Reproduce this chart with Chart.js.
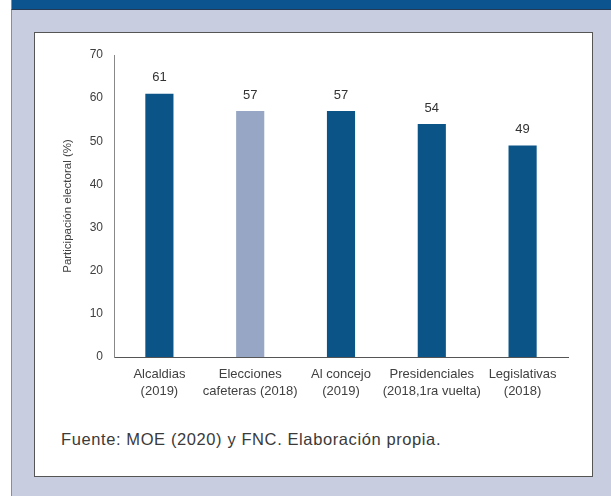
<!DOCTYPE html>
<html lang="es">
<head>
<meta charset="utf-8">
<title>Participación electoral</title>
<script src="https://cdn.jsdelivr.net/npm/chart.js@4.4.1/dist/chart.umd.min.js"></script>
<style>
  html, body { margin: 0; padding: 0; background: #fff; width: 611px; height: 496px; overflow: hidden; }
  .marco {
    position: absolute; left: 11px; top: 0; width: 620px; height: 496px;
    background: #c8cde0; border-left: 1px solid #8a8d99;
  }
  .banda {
    position: absolute; left: 11px; top: 0; width: 620px; height: 9px;
    background: #0b5490; border-bottom: 1px solid #243a55; border-left: 1px solid #8a8d99;
  }
  .panel {
    position: absolute; left: 34px; top: 32px; width: 557px; height: 443px;
    background: #fff; border: 1px solid #555;
  }
  .grafica { position: absolute; left: 0; top: 0; width: 557px; height: 380px; }
  .fuente {
    position: absolute; left: 26px; top: 397px;
    font-family: 'Liberation Sans', Arial, sans-serif; font-size: 16.5px; letter-spacing: 0.6px; color: #3a3a3a;
  }
</style>
</head>
<body>
<div class="marco"></div>
<div class="banda"></div>
<div class="panel">
  <div class="grafica"><canvas id="chart"></canvas></div>
  <div class="fuente">Fuente: MOE (2020) y FNC. Elaboración propia.</div>
</div>
<script>
// datos
const categorias = [
  ['Alcaldias', '(2019)'],
  ['Elecciones', 'cafeteras (2018)'],
  ['Al concejo', '(2019)'],
  ['Presidenciales', '(2018,1ra vuelta)'],
  ['Legislativas', '(2018)']
];
const participacion = [61, 57, 57, 54, 49];
const coloresBarras = ['#0b5488', '#97a6c4', '#0b5488', '#0b5488', '#0b5488'];
const yMin = 0, yMax = 70, yPaso = 10;

Chart.defaults.font.family = "'Liberation Sans', Arial, sans-serif";
Chart.defaults.color = '#404040';

// etiquetas de valor sobre cada barra
const etiquetasValor = {
  id: 'etiquetasValor',
  afterDatasetsDraw(chart) {
    const ctx = chart.ctx;
    const meta = chart.getDatasetMeta(0);
    ctx.save();
    ctx.font = "13px 'Liberation Sans', Arial, sans-serif";
    ctx.fillStyle = '#333';
    ctx.textAlign = 'center';
    ctx.textBaseline = 'middle';
    meta.data.forEach((bar, i) => {
      ctx.fillText(String(participacion[i]), bar.x, bar.y - 16);
    });
    ctx.restore();
  }
};

new Chart(document.getElementById('chart'), {
  type: 'bar',
  data: {
    labels: categorias,
    datasets: [{
      data: participacion,
      backgroundColor: coloresBarras,
      borderWidth: 0,
      categoryPercentage: 1,
      barPercentage: 0.31
    }]
  },
  options: {
    responsive: true,
    maintainAspectRatio: false,
    animation: false,
    events: [],
    layout: { padding: { left: 21, right: 24, top: 22, bottom: 0 } },
    plugins: { legend: { display: false }, tooltip: { enabled: false } },
    scales: {
      x: {
        grid: { display: false, drawTicks: false },
        border: { display: true, color: '#555', width: 1 },
        ticks: { padding: 9, color: '#404040', font: { size: 13, lineHeight: 1.3 }, maxRotation: 0, autoSkip: false },
        afterFit: s => { s.height = 56; }
      },
      y: {
        min: yMin, max: yMax,
        grid: { display: false, drawTicks: false },
        border: { display: true, color: '#888', width: 1 },
        ticks: { stepSize: yPaso, padding: 11, color: '#404040', font: { size: 12 } },
        title: { display: true, text: 'Participación electoral (%)', color: '#404040', font: { size: 11.5 }, padding: 5 },
        afterFit: s => { s.width = 58; }
      }
    }
  },
  plugins: [etiquetasValor]
});
</script>
</body>
</html>
